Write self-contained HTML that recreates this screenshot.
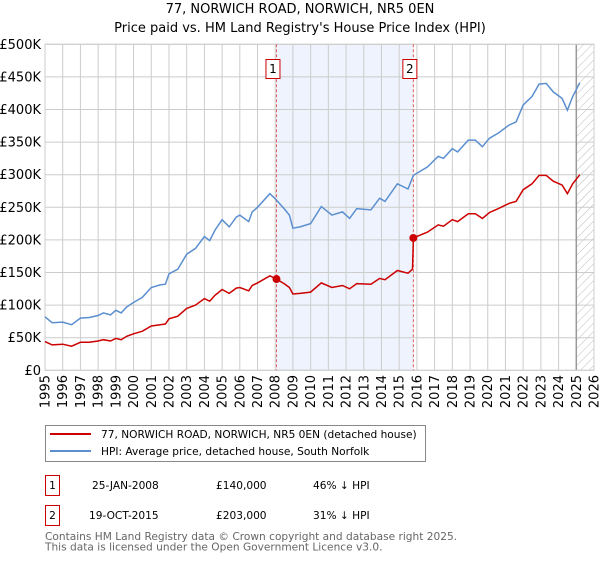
<!DOCTYPE html>
<html><head><meta charset="utf-8"><style>
body{margin:0;background:#fff;font-family:"Liberation Sans","DejaVu Sans",sans-serif;}
svg text{font-family:"DejaVu Sans","Liberation Sans",sans-serif;}
</style></head><body>
<svg id="c" width="600" height="560" viewBox="0 0 600 560" xmlns="http://www.w3.org/2000/svg">
<defs><pattern id="hatch" width="6" height="6" patternUnits="userSpaceOnUse" patternTransform="rotate(45)"><line x1="0" y1="0" x2="0" y2="6" stroke="#bbb" stroke-width="1"/></pattern></defs>
<text x="300" y="13" text-anchor="middle" font-size="13" fill="#000">77, NORWICH ROAD, NORWICH, NR5 0EN</text>
<text x="300" y="32" text-anchor="middle" font-size="13" fill="#000">Price paid vs. HM Land Registry's House Price Index (HPI)</text>
<g id="plot"></g>
<rect x="45.5" y="425.5" width="380" height="36" fill="#fff" stroke="#888"/>
<line x1="50" y1="434" x2="91" y2="434" stroke="#cc0000" stroke-width="2"/>
<text x="101" y="438" font-size="10.6">77, NORWICH ROAD, NORWICH, NR5 0EN (detached house)</text>
<line x1="50" y1="451" x2="91" y2="451" stroke="#5b8fd0" stroke-width="2"/>
<text x="101" y="455" font-size="10.6">HPI: Average price, detached house, South Norfolk</text>
<g font-size="10.6">
<rect x="45.5" y="475.5" width="14" height="20" fill="#fff" stroke="#cc0000"/>
<text x="52.5" y="489" text-anchor="middle">1</text>
<text x="92" y="489">25-JAN-2008</text>
<text x="216" y="489">£140,000</text>
<text x="313" y="489">46% ↓ HPI</text>
<rect x="45.5" y="505.5" width="14" height="20" fill="#fff" stroke="#cc0000"/>
<text x="52.5" y="519" text-anchor="middle">2</text>
<text x="89" y="519">19-OCT-2015</text>
<text x="216" y="519">£203,000</text>
<text x="313" y="519">31% ↓ HPI</text>
</g>
<text x="45" y="540" font-size="10.6" fill="#666">Contains HM Land Registry data © Crown copyright and database right 2025.</text>
<text x="45" y="550.5" font-size="10.6" fill="#666">This data is licensed under the Open Government Licence v3.0.</text>
</svg>
<script>
const yTicks=[0,50,100,150,200,250,300,350,400,450,500];
const yTickLabels=["£0","£50K","£100K","£150K","£200K","£250K","£300K","£350K","£400K","£450K","£500K"];
const years=[1995,1996,1997,1998,1999,2000,2001,2002,2003,2004,2005,2006,2007,2008,2009,2010,2011,2012,2013,2014,2015,2016,2017,2018,2019,2020,2021,2022,2023,2024,2025,2026];
const hpiDates=[1995.0,1995.4,1996.0,1996.5,1997.0,1997.5,1998.0,1998.3,1998.7,1999.0,1999.3,1999.6,2000.0,2000.5,2001.0,2001.5,2001.8,2002.0,2002.5,2003.0,2003.5,2004.0,2004.3,2004.6,2005.0,2005.4,2005.8,2006.0,2006.5,2006.7,2007.0,2007.7,2008.0,2008.5,2008.8,2009.0,2009.4,2010.0,2010.6,2011.2,2011.8,2012.2,2012.6,2013.4,2013.9,2014.2,2014.9,2015.5,2015.8,2016.6,2017.2,2017.5,2018.0,2018.3,2018.9,2019.3,2019.7,2020.1,2020.6,2021.2,2021.6,2022.0,2022.5,2022.9,2023.3,2023.7,2024.2,2024.5,2024.8,2025.2];
const hpiValues=[82,73,74,70,80,81,84,88,85,92,88,97,104,112,127,131,132,148,155,178,187,205,199,215,231,220,235,238,228,243,250,271,263,248,238,218,220,225,251,238,243,233,248,246,264,259,286,278,299,312,328,325,340,335,353,353,343,356,364,376,381,407,420,439,440,427,417,399,420,441];
const propDates=[1995.0,1995.4,1996.0,1996.5,1997.0,1997.5,1998.0,1998.3,1998.7,1999.0,1999.3,1999.6,2000.0,2000.5,2001.0,2001.5,2001.8,2002.0,2002.5,2003.0,2003.5,2004.0,2004.3,2004.6,2005.0,2005.4,2005.8,2006.0,2006.5,2006.7,2007.0,2007.7,2008.0,2008.5,2008.8,2009.0,2009.4,2010.0,2010.6,2011.2,2011.8,2012.2,2012.6,2013.4,2013.9,2014.2,2014.9,2015.5,2015.75,2015.8,2016.6,2017.2,2017.5,2018.0,2018.3,2018.9,2019.3,2019.7,2020.1,2020.6,2021.2,2021.6,2022.0,2022.5,2022.9,2023.3,2023.7,2024.2,2024.5,2024.8,2025.2];
const propValues=[44,39,40,37,43,43,45,47,45,49,47,52,56,60,68,70,71,79,83,95,100,110,106,115,124,118,126,127,122,130,134,145,141,133,127,117,118,120,134,127,130,125,133,132,141,139,153,149,155,203,212,223,221,231,228,240,240,233,242,248,256,259,277,286,299,299,290,284,271,286,300];
const saleDates=[2008.07,2015.8];
const salePrices=[140,203];
const saleLabels=["1","2"];

const NS="http://www.w3.org/2000/svg";
const L=45,R=594,T=44.3,B=370.3;
const x=d=>L+(d-1995)/(2026-1995)*(R-L);
const y=v=>B-v/500*(B-T);
const g=document.getElementById('plot');
function mk(tag,attrs,parent){const e=document.createElementNS(NS,tag);for(const k in attrs)e.setAttribute(k,attrs[k]);(parent||g).appendChild(e);return e;}

const shade=mk('rect',{x:x(saleDates[0]),y:T,width:x(saleDates[1])-x(saleDates[0]),height:B-T,fill:'#eef3fd'});


const hat=mk('rect',{x:x(2025),y:T,width:R-x(2025),height:B-T,fill:'url(#hatch)'});



yTicks.forEach((v,i)=>{
  const ln=mk('line',{x1:L,x2:R,y1:y(v),y2:y(v),stroke:'#ccc','stroke-width':1});
  
  
  const t=mk('text',{x:41,y:y(v)+4.5,'text-anchor':'end','font-size':13,fill:'#000'});
  t.textContent=yTickLabels[i];
  
  
});
years.forEach(yr=>{
  const ln=mk('line',{x1:x(yr),x2:x(yr),y1:T,y2:B,stroke:'#ccc','stroke-width':1});
  
  
  const t=mk('text',{x:0,y:0,'text-anchor':'end','font-size':13,fill:'#000',transform:`translate(${x(yr)+4.5},375) rotate(-90)`});
  t.textContent=yr;
  
  
});
const vl=mk('line',{x1:x(2025),x2:x(2025),y1:T,y2:B,stroke:'#999','stroke-width':1.5});


const fr=mk('rect',{x:L,y:T,width:R-L,height:B-T,fill:'none',stroke:'#ccc'});



saleDates.forEach((d,i)=>{
  const ln=mk('line',{x1:x(d),x2:x(d),y1:T,y2:B,stroke:'#e06060','stroke-width':1,'stroke-dasharray':'3,2'});
  
  
  const b=mk('rect',{x:x(d)-10.5,y:59.5,width:14,height:19,fill:'#fff',stroke:'#cc0000'});
  
  
  const t=mk('text',{x:x(d)-3.5,y:73,'text-anchor':'middle','font-size':12});
  t.textContent=saleLabels[i];
  
  
});

const hp=mk('path',{d:hpiDates.map((d,i)=>(i?'L':'M')+x(d).toFixed(1)+','+y(hpiValues[i]).toFixed(1)).join(''),fill:'none',stroke:'#5b8fd0','stroke-width':1.5});


const pp=mk('path',{d:propDates.map((d,i)=>(i?'L':'M')+x(d).toFixed(1)+','+y(propValues[i]).toFixed(1)).join(''),fill:'none',stroke:'#cc0000','stroke-width':1.5});


saleDates.forEach((d,i)=>{
  const c=mk('circle',{cx:x(d),cy:y(salePrices[i]),r:4,fill:'#cc0000'});
  
  
});
</script>
</body></html>
